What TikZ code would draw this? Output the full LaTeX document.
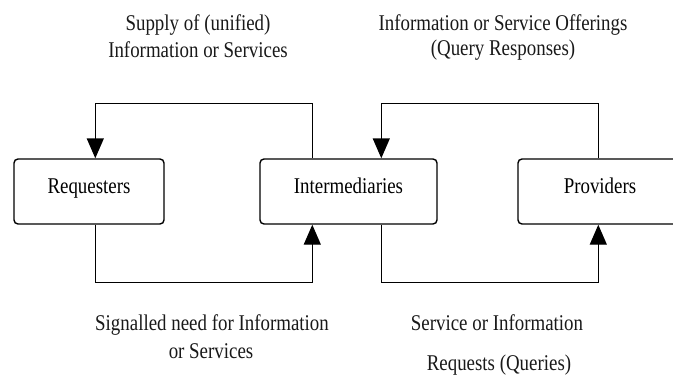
\documentclass[tikz,border=0pt]{standalone}
\usepackage{fontspec}
\setmainfont{Liberation Serif}[FakeStretch=0.84]
\usetikzlibrary{arrows.meta,calc}

\tikzset{
  party/.style={draw, line width=1.4pt, rounded corners=4pt, inner sep=0pt,
    minimum height=65pt, text height=13pt, text depth=10pt,
    font=\fontsize{22.5}{26}\selectfont},
  flow/.style={draw, line width=1.4pt, -{Triangle[length=20pt,width=17pt]}},
  caption/.style={anchor=base, inner sep=0pt, font=\fontsize{22.5}{26}\selectfont,
    text=black!90}
}

\begin{document}
\begin{tikzpicture}[x=1pt, y=-1pt]
  \useasboundingbox (0,0) rectangle (673,378);

  % the three parties
  \node[party, minimum width=150pt] (req)  at (89,191.5)  {Requesters};
  \node[party, minimum width=177pt] (int)  at (348.5,191.5) {Intermediaries};
  \node[party, minimum width=164pt] (prov) at (600,191.5) {Providers};

  % supply flows (upper loops)
  \draw[flow] ($(int.north west)+(53,0)$) -- ++(0,-55) -| ($(req.north west)+(82,0)$);
  \draw[flow] ($(prov.north west)+(81,0)$) -- ++(0,-55) -| ($(int.north west)+(122,0)$);

  % request flows (lower loops)
  \draw[flow] ($(req.south west)+(82,0)$) -- ++(0,58) -| ($(int.south west)+(53,0)$);
  \draw[flow] ($(int.south west)+(122,0)$) -- ++(0,58) -| ($(prov.south west)+(81,0)$);

  % flow captions
  \node[caption] (tl1) at (198,30) {Supply of (unified)};
  \node[caption] (tl2) at (198,57) {Information or Services};
  \node[caption] (tr1) at (503,30) {Information or Service Offerings};
  \node[caption] (tr2) at (503,55) {(Query Responses)};
  \node[caption] (bl1) at (212,330) {Signalled need for Information};
  \node[caption] (bl2) at (211,358) {or Services};
  \node[caption] (br1) at (497,330) {Service or Information};
  \node[caption] (br2) at (499,370) {Requests (Queries)};
\end{tikzpicture}
\end{document}
